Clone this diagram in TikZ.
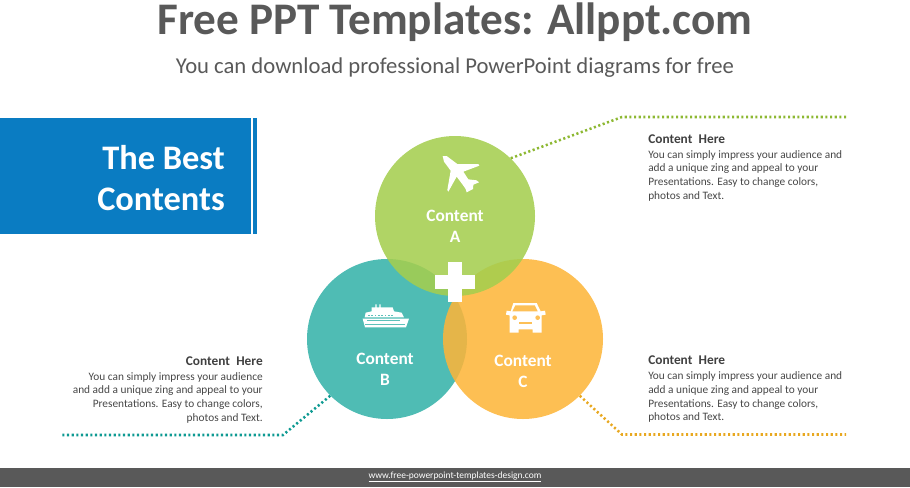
\documentclass[tikz,border=0pt]{standalone}
\usepackage{fontspec}
\setmainfont{Carlito}
\newfontfamily\ligfont{Carlito}[Ligatures=Rare]
\usepackage{xcolor}
\usetikzlibrary{shapes.geometric, arrows, positioning, calc}

\definecolor{titlegray}{HTML}{595959}
\definecolor{bestblue}{HTML}{0A7CC2}
\definecolor{greenA}{HTML}{A4CE4E}
\definecolor{tealB}{HTML}{35B2A9}
\definecolor{orangeC}{HTML}{FDB53A}
\definecolor{lineA}{HTML}{8DB832}
\definecolor{lineB}{HTML}{0E9A92}
\definecolor{lineC}{HTML}{E8A820}

\tikzset{
  circ/.style={circle, minimum size=120pt, inner sep=0pt, fill opacity=0.87},
  dotline/.style={line width=1.9pt, dash pattern=on 1.6pt off 1.9pt},
  circtext/.style={white, font=\fontsize{13}{15.6}\selectfont\bfseries, align=center, inner sep=0pt},
  headtext/.style={text=black!75, font=\fontsize{10}{12}\selectfont\bfseries, inner sep=0pt},
  bodytext/.style={text=black!72, font=\fontsize{8.5}{10.3}\selectfont, inner sep=0pt},
  icon/.style={fill=white, draw=none}
}

\begin{document}
\begin{tikzpicture}[x=0.75pt, y=-0.75pt]
\useasboundingbox (0,0) rectangle (910,487);

% Title
\node[text=titlegray, font=\fontsize{33.9}{38}\selectfont\bfseries, inner sep=0pt, anchor=base] (title) at (455,34) {Free PPT Templates: Allppt.com};
\node[text=titlegray, font=\fontsize{17}{20}\selectfont, inner sep=0pt] (subtitle) at (455,67.5) {You can download professional PowerPoint diagrams for free};

% Left box
\fill[bestblue] (0,118) rectangle (250.5,233.5);
\fill[bestblue] (253,118) rectangle (257,233.5);
\node[white, font=\fontsize{25.8}{30.5}\selectfont\bfseries, align=right, inner sep=0pt, anchor=east] (best) at (225,178) {The Best\\Contents};

% Circles
\node[circ, fill=tealB] (circB) at (387,339) {};
\node[circ, fill=orangeC] (circC) at (523,339) {};
\node[circ, fill=greenA] (circA) at (455,216) {};

% Circle labels
\node[circtext] (labelA) at (455,226) {Content\\A};
\node[circtext] (labelB) at (385,369) {Content\\B};
\node[circtext] (labelC) at (523,371) {Content\\C};

% Plus
\fill[white] (448,262) rectangle (462,302);
\fill[white] (435,275) rectangle (475,289);

% Connectors
\coordinate (kneeA) at (622,117);
\coordinate (endA) at (846,117);
\coordinate (kneeB) at (283,435);
\coordinate (endB) at (61,435);
\coordinate (kneeC) at (622,434.5);
\coordinate (endC) at (846,434.5);
\draw[dotline, lineA] (circA.46) -- (kneeA) -- (endA);
\draw[dotline, lineB] (circB.225) -- (kneeB) -- (endB);
\draw[dotline, lineC] (circC.-45) -- (kneeC) -- (endC);

% Side texts
\node[headtext, anchor=west] (headA) at (648,139) {Content\hspace{0.25em} Here};
\node[bodytext, align=left, anchor=north west] (bodyA) at (648,150) {You can simply impress your audience and\\add a unique zing and appeal to your\\{\ligfont Presentations}. Easy to change colors,\\photos and Text.};
\node[headtext, anchor=east] (headB) at (263,361) {Content\hspace{0.25em} Here};
\node[bodytext, align=right, anchor=north east] (bodyB) at (263,372) {You can simply impress your audience\\and add a unique zing and appeal to your\\{\ligfont Presentations}. Easy to change colors,\\photos and Text.\hspace{0.5em}};
\node[headtext, anchor=west] (headC) at (648,360.5) {Content\hspace{0.25em} Here};
\node[bodytext, align=left, anchor=north west] (bodyC) at (648,371.5) {You can simply impress your audience and\\add a unique zing and appeal to your\\{\ligfont Presentations}. Easy to change colors,\\photos and Text.};

% Icons
\begin{scope}[shift={(300,120)}, x=0.25pt, y=-0.25pt]
  % Plane
  \fill[icon] (428,108) -- (440,108) -- (472,132) -- (535,132) -- (538,137) -- (490,155) -- (505,178) -- (530,181) -- (537,187) -- (520,194) -- (519,207) -- (500,217) -- (497,207) -- (488,194) -- (470,170) -- (445,215) -- (442,210) -- (452,152) -- (432,125) -- cycle;
  % Ship
  \fill[icon] (188,596) -- (327,596) -- (318,622) -- (195,622) -- cycle;
  \fill[icon] (194,592) -- (197,578) -- (215,574) -- (215,562) -- (226,562) -- (226,553) -- (230,553) -- (230,562) -- (238,562) -- (238,553) -- (242,553) -- (242,562) -- (278,562) -- (282,574) -- (305,578) -- (312,592) -- cycle;
  \fill[tealB!80!white] (200,600) rectangle (300,603);
  \fill[tealB!80!white] (195,612) rectangle (316,614);
  \foreach \px in {204,214,...,274} {
    \fill[tealB!80!white] (\px,584) rectangle +(5,4);
  }
  % Car
  \fill[icon] (640,549) -- (710,549) -- (722,574) -- (735,572) -- (737,584) -- (725,586) -- (725,638) -- (698,638) -- (698,628) -- (656,628) -- (656,638) -- (629,638) -- (629,586) -- (618,584) -- (620,572) -- (632,574) -- cycle;
  \fill[orangeC!85!white] (646,556) -- (704,556) -- (713,574) -- (637,574) -- cycle;
  \fill[orangeC!85!white] (644,593) circle (7);
  \fill[orangeC!85!white] (713,593) circle (7);
  \fill[orangeC!85!white] (658,605) rectangle (696,612);
\end{scope}

% Footer
\fill[titlegray] (0,468) rectangle (910,487);
\node[white, font=\fontsize{7.1}{10}\selectfont, inner sep=0pt] (footer) at (455,477) {\underline{www.free-powerpoint-templates-design.com}};
\end{tikzpicture}
\end{document}
